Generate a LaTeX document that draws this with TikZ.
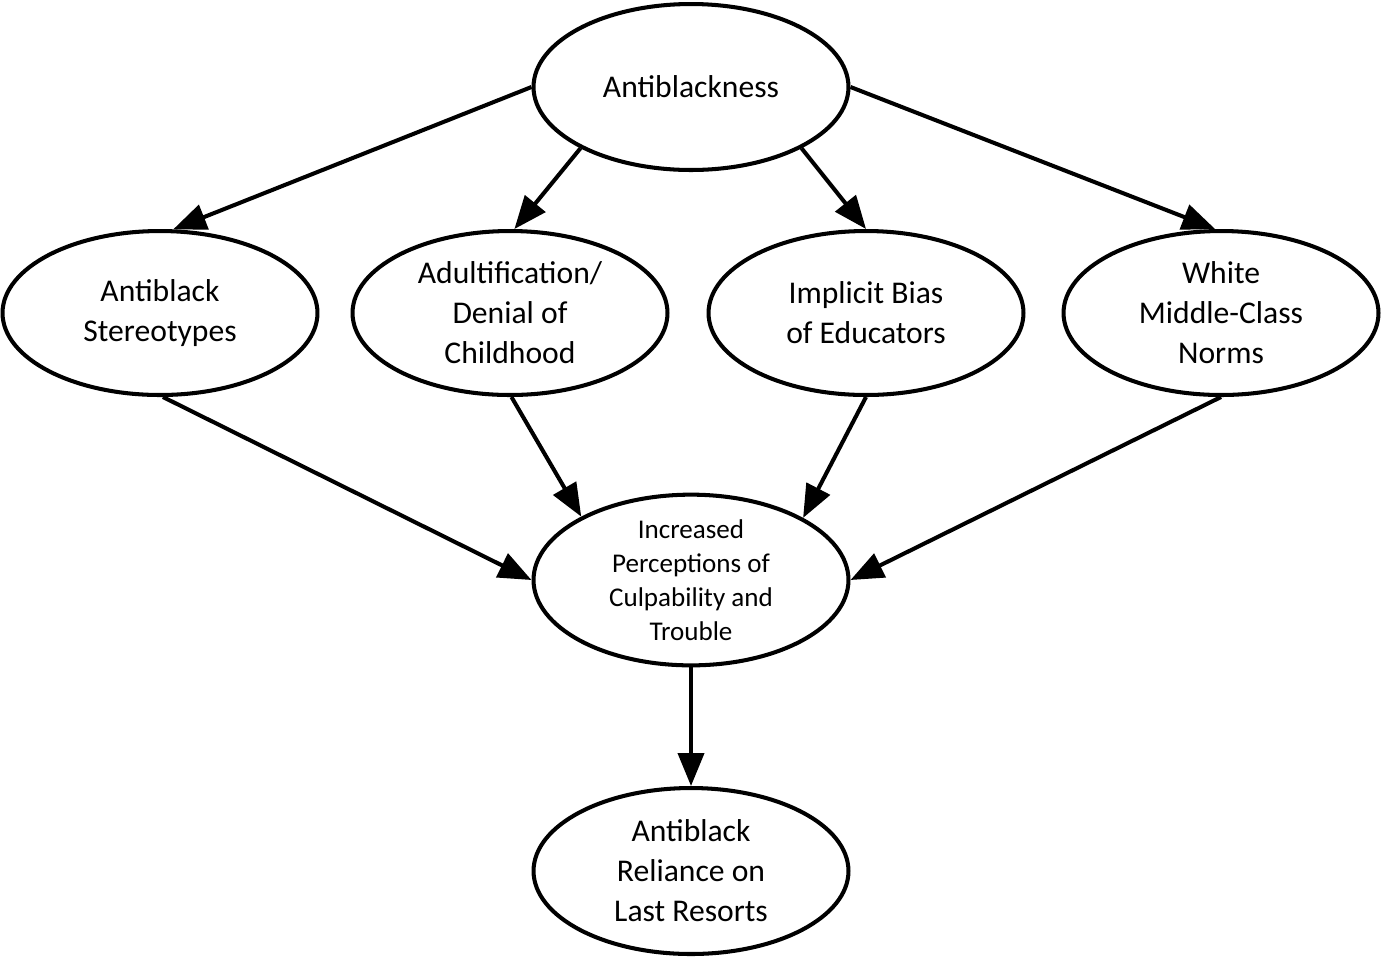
\documentclass[tikz,border=0pt]{standalone}
\usepackage{fontspec}
\setmainfont{Carlito}
\usetikzlibrary{shapes.geometric,arrows.meta}
\tikzset{
  ell/.style={ellipse, draw, line width=2.3pt, minimum width=6.3cm, minimum height=3.28cm, inner sep=0pt, align=center, font=\fontsize{18}{22.8}\selectfont},
  ellbig/.style={ell, minimum height=3.32cm},
  conn/.style={line width=2.3pt, -{Triangle[length=0.66cm, width=0.52cm]}}
}
\begin{document}
\begin{tikzpicture}[x=0.02cm, y=-0.02cm]
\useasboundingbox (0,0) rectangle (1381,958);
\node[ellbig] (top) at (691,87) {Antiblackness};
\node[ell] (st) at (160,313) {Antiblack\\Stereotypes};
\node[ell] (ad) at (510,313) {Adultification/\\Denial of\\Childhood};
\node[ell] (ib) at (866,313) {Implicit Bias\\of Educators};
\node[ell] (wm) at (1221,313) {White\\Middle-Class\\Norms};
\node[ellbig, font=\fontsize{15.4}{19.3}\selectfont] (inc) at (691,580) {Increased\\Perceptions of\\Culpability and\\Trouble};
\node[ellbig] (ar) at (691,871) {Antiblack\\Reliance on\\Last Resorts};
\draw[conn] (top.180) -- (st.81);
\draw[conn] (top.209) -- (ad.87);
\draw[conn] (top.331) -- (ib.90);
\draw[conn] (top.0) -- (wm.94);
\draw[conn] (st.272) -- (inc.180);
\draw[conn] (ad.271) -- (inc.150);
\draw[conn] (ib.270) -- (inc.29);
\draw[conn] (wm.270) -- (inc.0);
\draw[conn] (inc.270) -- (ar.90);
\end{tikzpicture}
\end{document}
